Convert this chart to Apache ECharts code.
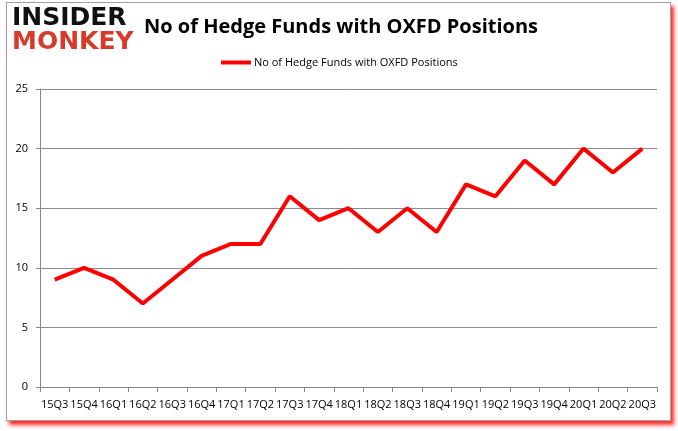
<!DOCTYPE html>
<html><head><meta charset="utf-8">
<script src="https://cdn.jsdelivr.net/npm/echarts@6/dist/echarts.min.js"></script>
<style>
html,body{margin:0;padding:0;background:#fff;}
#frame{position:absolute;left:6px;top:2px;width:663px;height:417px;border:1px solid #a0a0a0;box-shadow:3px 4px 4px rgba(255,0,0,0.85);background:#fff;}
#c{position:absolute;left:0;top:0;width:678px;height:431px;}
</style></head>
<body>
<div id="frame"></div>
<div id="c"></div>
<script>
const categories = ['15Q3','15Q4','16Q1','16Q2','16Q3','16Q4','17Q1','17Q2','17Q3','17Q4','18Q1','18Q2','18Q3','18Q4','19Q1','19Q2','19Q3','19Q4','20Q1','20Q2','20Q3'];
const hedgeFunds = [9,10,9,7,9,11,12,12,16,14,15,13,15,13,17,16,19,17,20,18,20];
const seriesName = 'No of Hedge Funds with OXFD Positions';

const chart = echarts.init(document.getElementById('c'), null, {renderer:'canvas'});
chart.setOption({
  backgroundColor: 'transparent',
  animation: false,
  title: {
    text: 'No of Hedge Funds with OXFD Positions',
    left: 139, top: 12,
    textStyle: {fontFamily: 'Open Sans', fontSize: 20, fontWeight: 'bold', color: '#000'}
  },
  legend: {
    data: [seriesName],
    top: 52, left: 216,
    itemWidth: 30, itemHeight: 4, itemGap: 4,
    icon: 'rect',
    textStyle: {fontFamily: 'Open Sans', fontSize: 11, color: '#000', padding:[0,0,0,-2]}
  },
  graphic: [
    {type:'text', left: 12, top: 6, style:{text:'INSIDER', fontFamily:'DejaVu Sans', fontWeight:'bold', fontSize:25, fill:'#111'}},
    {type:'text', left: 12, top: 30, style:{text:'MONKEY', fontFamily:'DejaVu Sans', fontWeight:'bold', fontSize:25, fill:'#d63a2a'}}
  ],
  grid: {left: 40, right: 21, top: 89, bottom: 44, containLabel: false},
  xAxis: {
    type: 'category',
    data: categories,
    boundaryGap: true,
    axisLine: {lineStyle: {color: '#888', width: 1}},
    axisTick: {show: true, length: 5, lineStyle: {color: '#888'}},
    axisLabel: {interval: 0, fontFamily: 'Open Sans', fontSize: 11, color: '#000', margin: 12}
  },
  yAxis: {
    type: 'value',
    min: 0, max: 25, interval: 5,
    axisLine: {show: true, lineStyle: {color: '#888'}},
    axisTick: {show: true, length: 4, lineStyle: {color: '#888'}},
    splitLine: {lineStyle: {color: '#8c8c8c', width: 1}},
    axisLabel: {fontFamily: 'Open Sans', fontSize: 11, color: '#000', margin: 12}
  },
  series: [{
    name: seriesName,
    type: 'line',
    data: hedgeFunds,
    showSymbol: false,
    symbol: 'none',
    lineStyle: {color: '#ff0000', width: 4},
    itemStyle: {color: '#ff0000'}
  }]
});
</script>
</body></html>
